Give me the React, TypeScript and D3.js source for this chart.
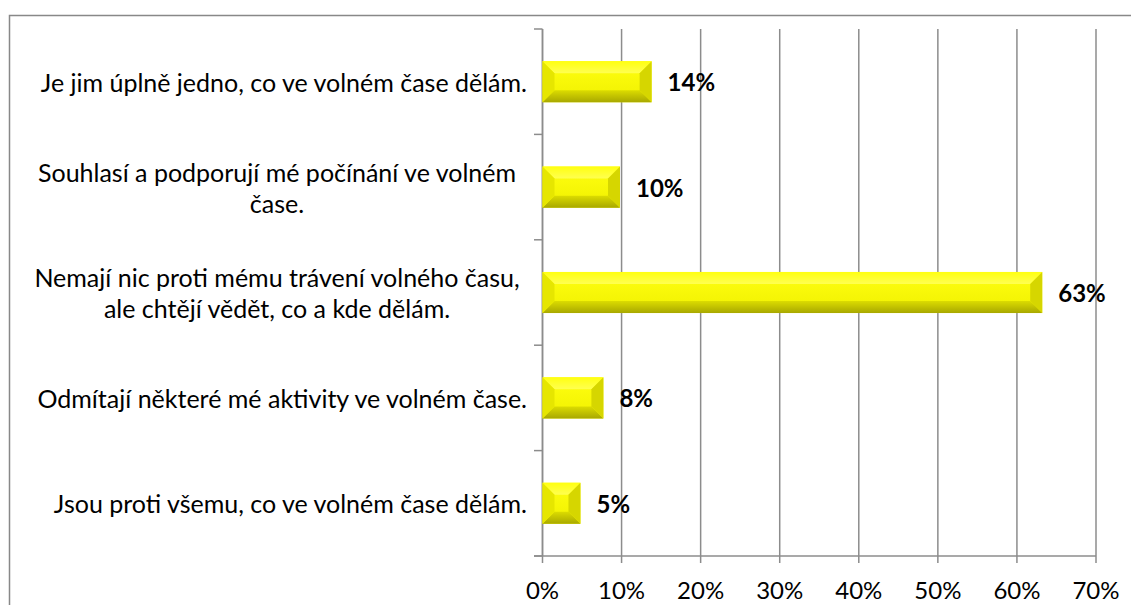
import { useMemo } from "react";
import * as d3 from "d3";

const categories = [
  ["Je jim úplně jedno, co ve volném čase dělám."],
  ["Souhlasí a podporují mé počínání ve volném", "čase."],
  ["Nemají nic proti mému trávení volného času,", "ale chtějí vědět, co a kde dělám."],
  ["Odmítají některé mé aktivity ve volném čase."],
  ["Jsou proti všemu, co ve volném čase dělám."],
];
const values = [13.8, 9.8, 63.2, 7.7, 4.8];
const xTicks = [0, 10, 20, 30, 40, 50, 60, 70];

const width = 1131;
const height = 605;
const font = "Lato, 'Open Sans', sans-serif";
const gridColor = "#8c8c8c";

export default function App() {
  const keys = categories.map((c) => c.join(" "));

  const x = useMemo(() => d3.scaleLinear().domain([0, 70]).range([542.5, 1096]), []);
  const band = useMemo(
    () => d3.scaleBand<string>().domain(keys).range([29, 556]).padding(0),
    [keys.join("|")]
  );
  const barH = band.bandwidth() * 0.39;

  // bevelled bar facets
  const bevel = (x0: number, x1: number, y0: number, h: number) => {
    const w = x1 - x0;
    const bx = Math.min(12, w / 2);
    const by = Math.min(12, h / 2);
    const y1 = y0 + h;
    const top = `${x0},${y0} ${x1},${y0} ${x1 - bx},${y0 + by} ${x0 + bx},${y0 + by}`;
    const bottom = `${x0},${y1} ${x1},${y1} ${x1 - bx},${y1 - by} ${x0 + bx},${y1 - by}`;
    const left = `${x0},${y0} ${x0 + bx},${y0 + by} ${x0 + bx},${y1 - by} ${x0},${y1}`;
    const right = `${x1},${y0} ${x1 - bx},${y0 + by} ${x1 - bx},${y1 - by} ${x1},${y1}`;
    return { top, bottom, left, right };
  };

  return (
    <svg
      width={width}
      height={height}
      style={{ position: "fixed", left: 0, top: 0, background: "#fff" }}
    >
      <defs>
        <linearGradient id="face" x1="0" y1="0" x2="0" y2="1">
          <stop offset="0" stopColor="#ffff10" />
          <stop offset="1" stopColor="#f0f000" />
        </linearGradient>
        <linearGradient id="bottomFacet" x1="0" y1="0" x2="0" y2="1">
          <stop offset="0" stopColor="#dcdc00" />
          <stop offset="1" stopColor="#a8a800" />
        </linearGradient>
        <linearGradient id="topFacet" x1="0" y1="0" x2="0" y2="1">
          <stop offset="0" stopColor="#ffff10" />
          <stop offset="1" stopColor="#ffff50" />
        </linearGradient>
      </defs>

      {/* chart area border */}
      <rect x={9.5} y={15.5} width={1130} height={600} fill="none" stroke="#888" strokeWidth={1.5} />

      {/* gridlines */}
      {xTicks.map((t) => (
        <line key={t} x1={x(t)} x2={x(t)} y1={29} y2={563} stroke={gridColor} strokeWidth={1.5} />
      ))}

      {/* category axis */}
      <line x1={x(0)} x2={x(0)} y1={29} y2={556} stroke={gridColor} strokeWidth={1.5} />
      {d3.range(keys.length + 1).map((i) => {
        const yy = 29 + i * band.step();
        return <line key={i} x1={534} x2={x(0)} y1={yy} y2={yy} stroke={gridColor} strokeWidth={1.5} />;
      })}
      <line x1={534} x2={x(70)} y1={556} y2={556} stroke={gridColor} strokeWidth={1.5} />

      {/* bars */}
      {keys.map((k, i) => {
        const cy = (band(k) || 0) + band.bandwidth() / 2;
        const y0 = cy - barH / 2;
        const x0 = x(0);
        const x1 = x(values[i]);
        const b = bevel(x0, x1, y0, barH);
        return (
          <g key={k}>
            <rect x={x0} y={y0} width={x1 - x0} height={barH} fill="url(#face)" />
            <polygon points={b.top} fill="url(#topFacet)" />
            <polygon points={b.bottom} fill="url(#bottomFacet)" />
            <polygon points={b.left} fill="#e6e600" />
            <polygon points={b.right} fill="#d6d600" />
            <text
              x={x1 + 16}
              y={cy}
              dominantBaseline="central"
              fontFamily={font}
              fontSize={24}
              fontWeight={700}
              fill="#000"
            >
              {Math.round(values[i])}%
            </text>
          </g>
        );
      })}

      {/* category labels */}
      {categories.map((lines, i) => {
        const cy = (band(keys[i]) || 0) + band.bandwidth() / 2;
        const lh = 31;
        const startY = cy - ((lines.length - 1) * lh) / 2;
        if (lines.length === 1) {
          return (
            <text key={i} x={527} y={startY} textAnchor="end" dominantBaseline="central"
              fontFamily={font} fontSize={25} fill="#000">
              {lines[0]}
            </text>
          );
        }
        return (
          <text key={i} x={277} textAnchor="middle" fontFamily={font} fontSize={25} fill="#000">
            {lines.map((l, j) => (
              <tspan key={j} x={277} y={startY + j * lh} dominantBaseline="central">
                {l}
              </tspan>
            ))}
          </text>
        );
      })}

      {/* x tick labels */}
      {xTicks.map((t) => (
        <text key={t} x={x(t)} y={589} textAnchor="middle" dominantBaseline="central"
          fontFamily={font} fontSize={24} fill="#000">
          {t}%
        </text>
      ))}
    </svg>
  );
}
